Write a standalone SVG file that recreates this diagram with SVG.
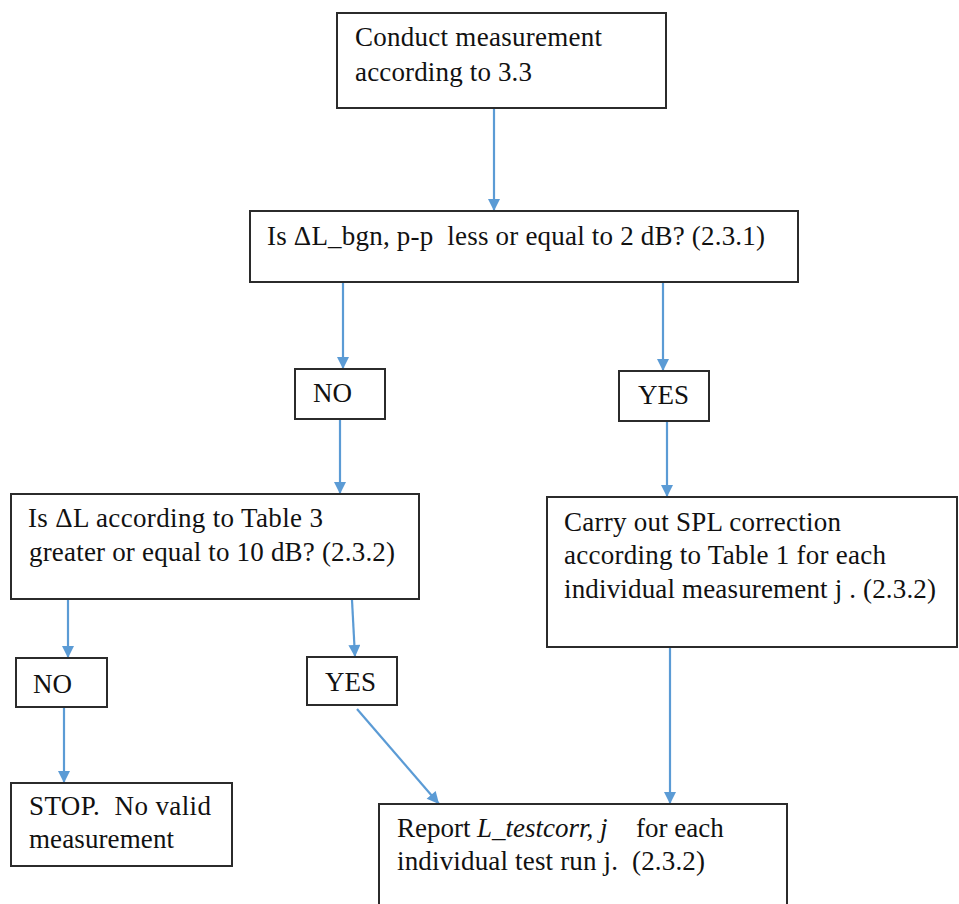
<svg xmlns="http://www.w3.org/2000/svg" width="959" height="904" viewBox="0 0 959 904">
<defs>
<style>
.box{fill:#fff;stroke:#2b2b2b;stroke-width:2}
.t{font-family:'Liberation Serif','Times New Roman','DejaVu Serif',serif;font-size:27px;fill:#111;white-space:pre}
.i{font-style:italic}
.c{stroke:#5b9bd5;stroke-width:2.2;fill:none;marker-end:url(#ah)}
</style>
<marker id="ah" viewBox="0 0 10 10" refX="10" refY="5" markerWidth="13" markerHeight="12" markerUnits="userSpaceOnUse" orient="auto">
<path d="M0,0 L10,5 L0,10 z" fill="#5b9bd5"/>
</marker>
</defs>
<rect width="959" height="904" fill="#fff"/>
<g id="connectors">
<line class="c" x1="494" y1="108" x2="494" y2="211"/>
<line class="c" x1="343" y1="282" x2="343" y2="369"/>
<line class="c" x1="663" y1="282" x2="663" y2="371"/>
<line class="c" x1="340" y1="420" x2="340" y2="494"/>
<line class="c" x1="667" y1="422" x2="667" y2="497"/>
<line class="c" x1="68" y1="600" x2="68" y2="658"/>
<line class="c" x1="352" y1="600" x2="355" y2="657"/>
<line class="c" x1="64" y1="708" x2="64" y2="783"/>
<line class="c" x1="357" y1="709" x2="439" y2="804"/>
<line class="c" x1="670" y1="648" x2="670" y2="804"/>
</g>
<g id="n1">
<rect class="box" x="337" y="13" width="329" height="95"/>
<text class="t" x="355" y="46" textLength="247">Conduct measurement</text>
<text class="t" x="355" y="81" textLength="177">according to 3.3</text>
</g>
<g id="n2">
<rect class="box" x="250" y="211" width="548" height="71"/>
<text class="t" x="267" y="245" textLength="498">Is ΔL_bgn, p-p  less or equal to 2 dB? (2.3.1)</text>
</g>
<g id="n3">
<rect class="box" x="295" y="369" width="90" height="50"/>
<text class="t" x="313" y="402">NO</text>
</g>
<g id="n4">
<rect class="box" x="619" y="371" width="90" height="50"/>
<text class="t" x="638" y="404">YES</text>
</g>
<g id="n5">
<rect class="box" x="11" y="494" width="408" height="105"/>
<text class="t" x="28" y="527" textLength="295">Is ΔL according to Table 3</text>
<text class="t" x="29" y="561" textLength="366">greater or equal to 10 dB? (2.3.2)</text>
</g>
<g id="n6">
<rect class="box" x="547" y="497" width="410" height="150"/>
<text class="t" x="564" y="531" textLength="277">Carry out SPL correction</text>
<text class="t" x="564" y="564" textLength="322">according to Table 1 for each</text>
<text class="t" x="564" y="598" textLength="372">individual measurement j . (2.3.2)</text>
</g>
<g id="n7">
<rect class="box" x="16" y="658" width="91" height="49"/>
<text class="t" x="33" y="693">NO</text>
</g>
<g id="n8">
<rect class="box" x="307" y="657" width="90" height="48"/>
<text class="t" x="325" y="691">YES</text>
</g>
<g id="n9">
<rect class="box" x="11" y="783" width="221" height="83"/>
<text class="t" x="29" y="815" textLength="182">STOP.  No valid</text>
<text class="t" x="29" y="848" textLength="145">measurement</text>
</g>
<g id="n10">
<rect class="box" x="379" y="804" width="408" height="110"/>
<text class="t" x="397" y="837">Report <tspan class="i" x="477">L_testcorr, j</tspan><tspan x="636">for each</tspan></text>
<text class="t" x="397" y="870" textLength="308">individual test run j.  (2.3.2)</text>
</g>
</svg>
